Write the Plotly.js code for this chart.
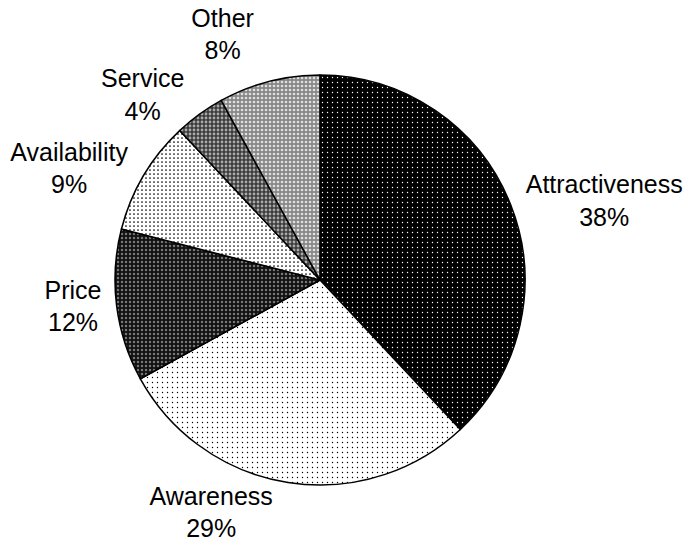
<!DOCTYPE html>
<html>
<head>
<meta charset="utf-8">
<script src="https://cdn.plot.ly/plotly-3.0.1.min.js"></script>
<style>html,body{margin:0;padding:0;background:#fff;}#chart{width:690px;height:546px;}#chart path.textline{display:none;}</style>
</head>
<body>
<div id="chart"></div>
<script>
var labels = ["Attractiveness", "Awareness", "Price", "Availability", "Service", "Other"];
var values = [38, 29, 12, 9, 4, 8];
var patternBg = ["#000000", "#ffffff", "#111111", "#ffffff", "#3a3a3a", "#888888"];
var patternFg = ["#ffffff", "#000000", "#777777", "#000000", "#aaaaaa", "#e0e0e0"];
var patternSize = [5, 5, 4, 4, 4, 4];
var patternSolidity = [0.06, 0.06, 0.3, 0.15, 0.4, 0.35];

var trace = {
  type: "pie",
  labels: labels,
  values: values,
  sort: false,
  direction: "clockwise",
  rotation: 0,
  textposition: "outside",
  texttemplate: "%{label}<br>%{percent:.0%}",
  textfont: {family: "Liberation Sans, Arial, sans-serif", size: 25, color: "#000"},
  hoverinfo: "none",
  showlegend: false,
  domain: {x: [0.1594, 0.7681], y: [0.1117, 0.8626]},
  marker: {
    colors: patternBg,
    line: {color: "#000", width: 1.5},
    pattern: {
      shape: ".",
      bgcolor: patternBg,
      fgcolor: patternFg,
      size: patternSize,
      solidity: patternSolidity,
      fillmode: "replace"
    }
  }
};

var layout = {
  width: 690,
  height: 546,
  margin: {l: 0, r: 0, t: 0, b: 0},
  paper_bgcolor: "#fff",
  showlegend: false
};

Plotly.newPlot("chart", [trace], layout, {displayModeBar: false, staticPlot: true});
</script>
</body>
</html>
